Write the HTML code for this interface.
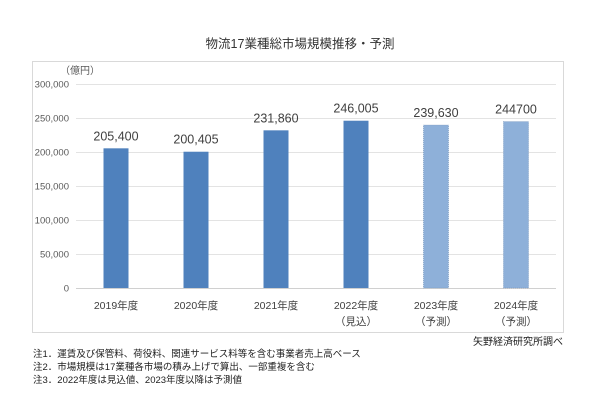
<!DOCTYPE html>
<html><head><meta charset="utf-8"><style>
body{margin:0;background:#fff;font-family:"Liberation Sans","Noto Sans CJK JP",sans-serif;}
svg text{font-family:"Liberation Sans","Noto Sans CJK JP",sans-serif;}
</style></head><body>
<svg width="600" height="400">
<text x="300" y="48" text-anchor="middle" font-size="12.5" fill="#333">物流17業種総市場規模推移・予測</text>
<rect x="32.5" y="61.5" width="531" height="271" fill="#fff" stroke="#d9d9d9"/>
<text x="60" y="74" font-size="10" fill="#595959">（億円）</text>
<g id="grid"></g><g id="bars"></g><g id="xl"></g>
<text x="563" y="345" text-anchor="end" font-size="10" fill="#222">矢野経済研究所調べ</text>
<text x="33" y="357" font-size="9.5" fill="#222">注1．運賃及び保管料、荷役料、関連サービス料等を含む事業者売上高ベース</text>
<text x="33" y="370" font-size="9.5" fill="#222">注2．市場規模は17業種各市場の積み上げで算出、一部重複を含む</text>
<text x="33" y="383" font-size="9.5" fill="#222">注3．2022年度は見込値、2023年度以降は予測値</text>
</svg>
<script>
const categories=["2019年度","2020年度","2021年度","2022年度","2023年度","2024年度"];
const subLabels=["","","","（見込）","（予測）","（予測）"];
const values=[205400,200405,231860,246005,239630,244700];
const valueLabels=["205,400","200,405","231,860","246,005","239,630","244700"];
const forecast=[false,false,false,false,true,true];
const yTicks=[0,50000,100000,150000,200000,250000,300000];
const yTickLabels=["0","50,000","100,000","150,000","200,000","250,000","300,000"];
const NS="http://www.w3.org/2000/svg";
const L=76,R=556,T=84,B=288,maxV=300000;
const y=v=>B-(v/maxV)*(B-T);
const bw=(R-L)/categories.length;
const x=i=>L+bw*(i+0.5);
function mk(tag,attrs,parent,txt){const e=document.createElementNS(NS,tag);for(const k in attrs)e.setAttribute(k,attrs[k]);if(txt!==undefined)e.textContent=txt;document.getElementById(parent).appendChild(e);return e;}
yTicks.forEach((t,i)=>{
  const l=mk('line',{x1:L,x2:R,y1:y(t)+0.5,y2:y(t)+0.5,stroke:i===0?'#d0d0d0':'#e3e3e3'},'grid');
  
  
  const tx=mk('text',{x:69,y:y(t)+3.5,'text-anchor':'end','font-size':'9.5',fill:'#595959'},'grid',yTickLabels[i]);
  
  
});
values.forEach((v,i)=>{
  const r=mk('rect',{x:x(i)-12.5,y:y(v),width:25,height:B-y(v),fill:forecast[i]?'#8eb0d9':'#4f81bd',stroke:forecast[i]?'#6f8fb8':'none','stroke-dasharray':'1,1','stroke-width':forecast[i]?0.6:0},'bars');
  
  
  const t=mk('text',{x:x(i),y:y(v)-8,'text-anchor':'middle','font-size':'12.5',fill:'#404040'},'bars',valueLabels[i]);
  
  
  const c=mk('text',{x:x(i),y:309,'text-anchor':'middle','font-size':'10.5',fill:'#404040'},'xl',categories[i]);
  
  
  if(subLabels[i]){const s=mk('text',{x:x(i),y:325,'text-anchor':'middle','font-size':'10.5',fill:'#404040'},'xl',subLabels[i]);
  
  }
});
</script>
</body></html>
